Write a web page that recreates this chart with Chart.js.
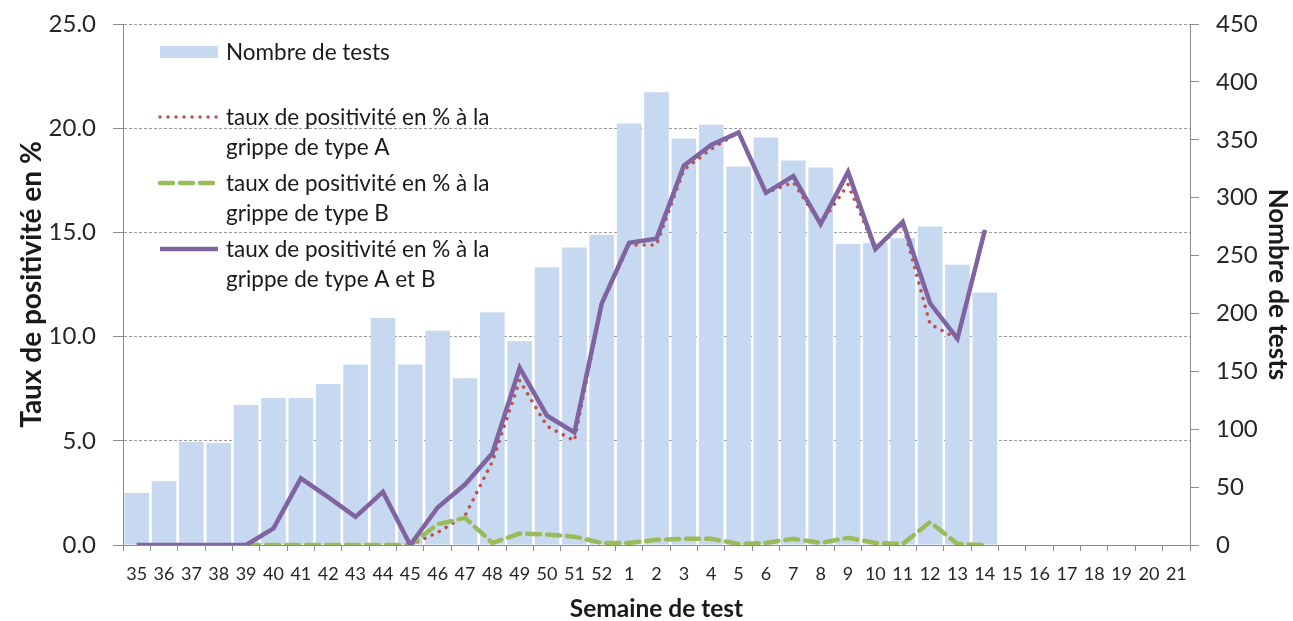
<!DOCTYPE html>
<html>
<head>
<meta charset="utf-8">
<script src="https://cdn.jsdelivr.net/npm/chart.js@4.4.1/dist/chart.umd.min.js"></script>
<style>
  html, body { margin: 0; padding: 0; background: #ffffff; }
  #wrap { width: 1293px; height: 621px; }
</style>
</head>
<body>
<div id="wrap"><canvas id="c" width="1293" height="621"></canvas></div>
<script>
// ---- Data ----
const weeks = ['35','36','37','38','39','40','41','42','43','44','45','46','47','48','49','50','51','52',
  '1','2','3','4','5','6','7','8','9','10','11','12','13','14','15','16','17','18','19','20','21'];

const nbTests = [45, 55, 89, 88, 121, 127, 127, 139, 156, 196, 156, 185, 144, 201, 176, 240, 257, 268,
  364, 391, 351, 363, 327, 352, 332, 326, 260, 261, 265, 275, 242, 218, null, null, null, null, null, null, null];

const tauxA = [null, null, null, null, null, null, null, null, null, null, 0, 0.6, 1.4, 4.0, 7.9, 5.7, 5.0, 11.6,
  14.4, 14.4, 18.0, 19.0, 19.8, 16.9, 17.4, 15.4, 17.3, 14.2, 15.4, 10.6, 9.9, 15.1, null, null, null, null, null, null, null];

const tauxB = [null, null, null, null, 0, 0, 0, 0, 0, 0, 0, 1.0, 1.3, 0.1, 0.55, 0.5, 0.4, 0.1,
  0.1, 0.25, 0.3, 0.3, 0.05, 0.1, 0.3, 0.1, 0.35, 0.1, 0.05, 1.1, 0.05, 0, null, null, null, null, null, null, null];

const tauxAB = [0, 0, 0, 0, 0, 0.8, 3.2, 2.3, 1.35, 2.55, 0, 1.8, 2.9, 4.4, 8.5, 6.2, 5.4, 11.6,
  14.5, 14.7, 18.2, 19.2, 19.8, 16.9, 17.7, 15.4, 17.9, 14.2, 15.5, 11.6, 9.9, 15.1, null, null, null, null, null, null, null];

const leftTicks = [0, 5, 10, 15, 20, 25];
const rightTicks = [0, 50, 100, 150, 200, 250, 300, 350, 400, 450];

const legendLabels = [
  ['Nombre de tests'],
  ['taux de positivité en % à la', 'grippe de type A'],
  ['taux de positivité en % à la', 'grippe de type B'],
  ['taux de positivité en % à la', 'grippe de type A et B']
];

// ---- Styles ----
const FONT = 'Lato, "Open Sans", sans-serif';
const TXT = '#262626';
const AXIS = '#8c8c8c';
const BAR = '#c6d9f0';
const RED = '#c0504d';
const GREEN = '#9bbb59';
const PURPLE = '#8064a2';

Chart.defaults.font.family = FONT;
Chart.defaults.color = TXT;

const insideLegend = {
  id: 'insideLegend',
  afterDatasetsDraw(chart) {
    const ctx = chart.ctx;
    const ca = chart.chartArea;
    const sx0 = ca.left + 35, sx1 = ca.left + 95, tx = ca.left + 103;
    const rowY = [[52], [117, 147], [183, 213], [249, 279]];
    const dsIndex = [0, 1, 2, 3];
    ctx.save();
    ctx.font = '22.5px ' + FONT;
    ctx.fillStyle = '#1a1a1a';
    ctx.textBaseline = 'middle';
    ctx.textAlign = 'left';
    legendLabels.forEach((lines, i) => {
      const ds = chart.data.datasets[dsIndex[i]];
      const y0 = rowY[i][0];
      ctx.save();
      if (ds.type === 'bar') {
        ctx.fillStyle = ds.backgroundColor;
        ctx.fillRect(sx0 + 2, y0 - 6, sx1 - sx0 - 2, 12);
      } else {
        ctx.strokeStyle = ds.borderColor;
        ctx.lineWidth = ds.borderWidth;
        ctx.lineCap = ds.borderCapStyle || 'butt';
        ctx.setLineDash(ds.borderDash || []);
        ctx.beginPath();
        ctx.moveTo(sx0 + 2, y0);
        ctx.lineTo(sx1, y0);
        ctx.stroke();
      }
      ctx.restore();
      lines.forEach((t, k) => ctx.fillText(t, tx, rowY[i][k] + 1));
    });
    ctx.restore();
  }
};

const noVPad = (w) => (s) => { s.width = w; s.paddingTop = 0; s.paddingBottom = 0; };

new Chart(document.getElementById('c'), {
  data: {
    labels: weeks,
    datasets: [
      {
        type: 'bar', label: legendLabels[0].join(' '), data: nbTests, yAxisID: 'y1',
        backgroundColor: BAR, barPercentage: 0.9, categoryPercentage: 1.0, order: 4
      },
      {
        type: 'line', label: legendLabels[1].join(' '), data: tauxA, yAxisID: 'y',
        borderColor: RED, borderWidth: 3.5, borderDash: [0.01, 8], borderCapStyle: 'round',
        pointRadius: 0, tension: 0, fill: false, order: 2
      },
      {
        type: 'line', label: legendLabels[2].join(' '), data: tauxB, yAxisID: 'y',
        borderColor: GREEN, borderWidth: 4.5, borderDash: [13, 7], borderCapStyle: 'round',
        pointRadius: 0, tension: 0, fill: false, order: 1
      },
      {
        type: 'line', label: legendLabels[3].join(' '), data: tauxAB, yAxisID: 'y',
        borderColor: PURPLE, borderWidth: 4.5, borderJoinStyle: 'miter',
        pointRadius: 0, tension: 0, fill: false, order: 0
      }
    ]
  },
  options: {
    responsive: false,
    animation: false,
    layout: { padding: { top: 24, left: 0, right: 0, bottom: 0 } },
    plugins: { legend: { display: false }, tooltip: { enabled: false } },
    scales: {
      x: {
        type: 'category',
        offset: true,
        grid: { display: true, drawOnChartArea: false, offset: true, color: AXIS, tickLength: 6, tickColor: AXIS },
        border: { display: true, color: AXIS, width: 1 },
        ticks: { autoSkip: false, maxRotation: 0, minRotation: 0, padding: 12, font: { size: 18 }, color: TXT },
        title: { display: true, text: 'Semaine de test', font: { size: 24.5, weight: 'bold', lineHeight: 1.0 }, color: '#1a1a1a', padding: { top: 0, bottom: 0 } },
        afterFit: (s) => { s.height = 76; s.paddingLeft = 0; s.paddingRight = 0; }
      },
      y: {
        position: 'left', min: 0, max: 25,
        afterBuildTicks: (s) => { s.ticks = leftTicks.map(v => ({ value: v })); },
        grid: { color: '#9a9a9a', lineWidth: 1, tickLength: 10, tickColor: AXIS, drawTicks: true },
        border: { display: true, color: AXIS, width: 1, dash: [3, 2] },
        ticks: { padding: 17, font: { size: 24 }, color: TXT, callback: (v) => Number(v).toFixed(1) },
        title: { display: true, text: 'Taux de positivité en %', font: { size: 28, weight: 'bold', lineHeight: 1.2 }, color: '#1a1a1a', padding: { top: 15, bottom: 0 } },
        afterFit: noVPad(123)
      },
      y1: {
        position: 'right', min: 0, max: 450,
        afterBuildTicks: (s) => { s.ticks = rightTicks.map(v => ({ value: v })); },
        grid: { drawOnChartArea: false, tickLength: 9, tickColor: AXIS, color: AXIS },
        border: { display: true, color: AXIS, width: 1 },
        ticks: { padding: 17, font: { size: 24 }, color: TXT },
        title: { display: true, text: 'Nombre de tests', font: { size: 26, weight: 'bold', lineHeight: 1.2 }, color: '#1a1a1a', padding: { top: 0, bottom: 0 } },
        afterFit: noVPad(103)
      }
    }
  },
  plugins: [insideLegend]
});
</script>
</body>
</html>
